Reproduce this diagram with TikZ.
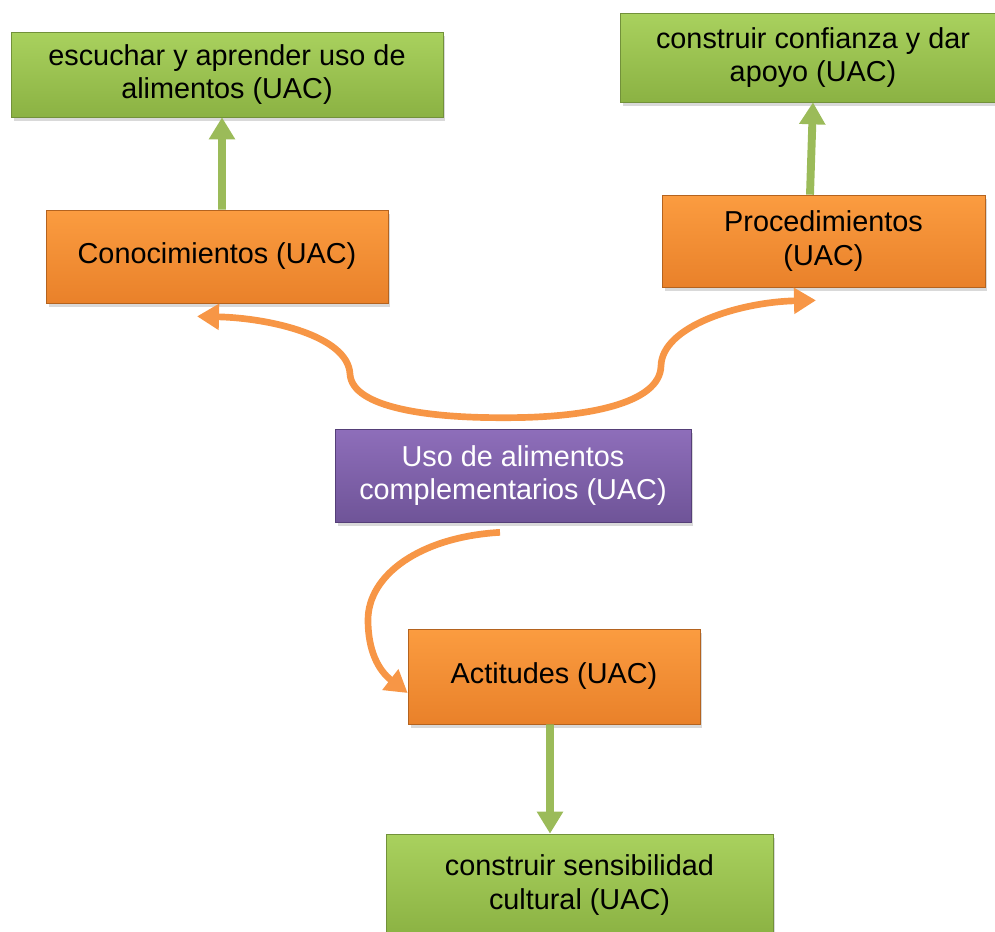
\documentclass[tikz,border=0pt]{standalone}
\usepackage{fontspec}
\setmainfont{Liberation Sans}
\usetikzlibrary{arrows.meta, shadows}
\definecolor{leafgreen}{HTML}{9BBB59}
\definecolor{greentop}{HTML}{A9D15E}
\definecolor{greenbot}{HTML}{8BB243}
\definecolor{greenedge}{HTML}{72913A}
\definecolor{ambertop}{HTML}{FB9C40}
\definecolor{amberbot}{HTML}{E9812A}
\definecolor{amberedge}{HTML}{B4631F}
\definecolor{ambarrow}{HTML}{F79646}
\definecolor{plumtop}{HTML}{8E6EBA}
\definecolor{plumbot}{HTML}{6F5498}
\definecolor{plumedge}{HTML}{553F78}
\tikzset{
    box/.style={rectangle, inner sep=0pt, align=center, font=\fontsize{16.4}{19}\selectfont,
        drop shadow={shadow xshift=0.05cm, shadow yshift=-0.08cm, opacity=0.3}},
    greenbox/.style={box, draw=greenedge, top color=greentop, bottom color=greenbot},
    orangebox/.style={box, draw=amberedge, top color=ambertop, bottom color=amberbot},
    purplebox/.style={box, draw=plumedge, top color=plumtop, bottom color=plumbot, text=white},
    greenarrow/.style={-{Triangle[length=0.44cm, width=0.5cm]}, line width=4.5pt, draw=leafgreen},
    orangearrow/.style={-{Triangle[length=0.44cm, width=0.5cm]}, line width=3.8pt, draw=ambarrow}
}
\begin{document}
\begin{tikzpicture}[x=0.02cm, y=-0.02cm]
    \useasboundingbox (0,0) rectangle (995,931);
    \node[greenbox, minimum width=8.64cm, minimum height=1.7cm] (escuchar) at (227,74.5) {escuchar y aprender uso de\\alimentos (UAC)};
    \node[greenbox, minimum width=7.72cm, minimum height=1.78cm] (confianza) at (813,57.5) {construir confianza y dar\\apoyo (UAC)};
    \node[orangebox, minimum width=6.84cm, minimum height=1.86cm] (conoc) at (217,256.5) {Conocimientos (UAC)};
    \node[orangebox, minimum width=6.46cm, minimum height=1.84cm] (proced) at (823.5,241) {Procedimientos\\(UAC)};
    \node[purplebox, minimum width=7.12cm, minimum height=1.86cm] (uso) at (513,475.5) {Uso de alimentos\\complementarios (UAC)};
    \node[orangebox, minimum width=5.84cm, minimum height=1.9cm] (actit) at (554,676.5) {Actitudes (UAC)};
    \node[greenbox, minimum width=7.74cm, minimum height=2.04cm] (sensib) at (579.5,885) {construir sensibilidad\\cultural (UAC)};

    % fork above the purple box and arrow ends
    \coordinate (fork) at ([xshift=-0.18cm, yshift=0.22cm]uso.north);
    \coordinate (conocend) at ([xshift=-0.4cm, yshift=-0.26cm]conoc.south);
    \coordinate (procend) at ([xshift=-0.15cm, yshift=-0.26cm]proced.south);
    \coordinate (usobelow) at ([xshift=-0.26cm, yshift=-0.2cm]uso.south);
    \coordinate (actitend) at ([yshift=-0.33cm]actit.west);

    \draw[orangearrow] (fork) .. controls (430,418) and (352,408) .. (350,374)
        .. controls (348,336) and (270,318) .. (conocend);
    \draw[orangearrow] (fork) .. controls (585,418) and (660,404) .. (661,366)
        .. controls (662,326) and (740,302) .. (procend);
    \draw[orangearrow] (usobelow) .. controls (420,537) and (368,575) .. (368,620)
        .. controls (368,650) and (378,670) .. (actitend);

    \draw[greenarrow] ([xshift=0.1cm]conoc.north) -- ([xshift=-0.1cm]escuchar.south);
    \draw[greenarrow] ([xshift=-0.27cm]proced.north) -- (confianza.south);
    \draw[greenarrow] ([xshift=-0.08cm]actit.south) -- ([xshift=-0.59cm]sensib.north);
\end{tikzpicture}
\end{document}
